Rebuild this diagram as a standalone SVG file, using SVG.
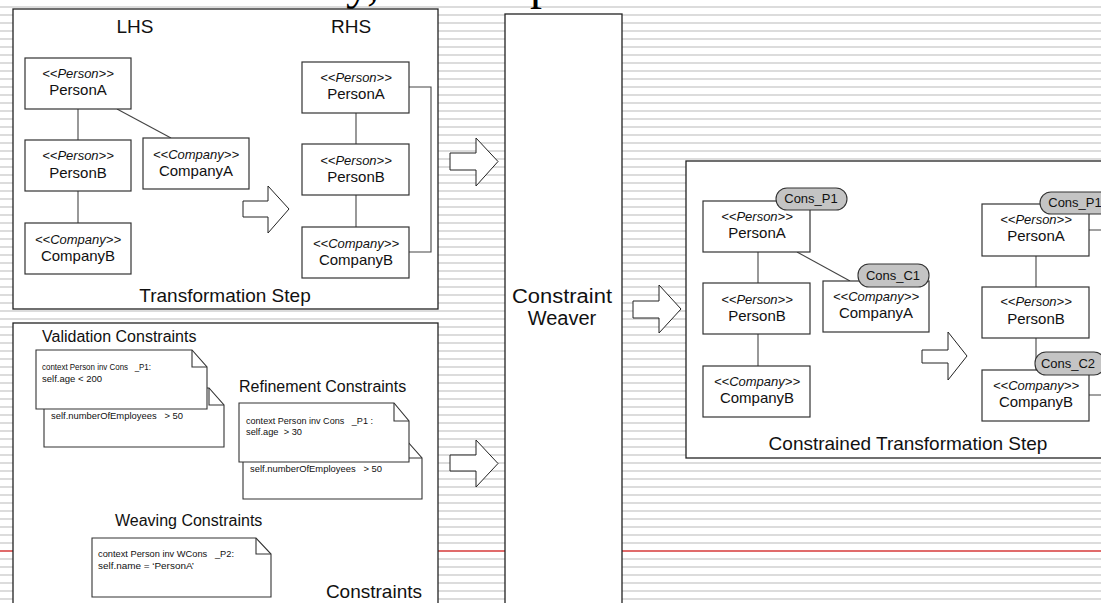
<svg xmlns="http://www.w3.org/2000/svg" width="1101" height="603" viewBox="0 0 1101 603">
<defs>
<pattern id="stripes" width="8" height="8" patternUnits="userSpaceOnUse"><rect x="0" y="6" width="8" height="2" fill="#dcdcdc"/></pattern>
</defs>
<style>
text{font-family:"Liberation Sans",Arial,sans-serif;fill:#111}
.frame{fill:#fff;stroke:#222;stroke-width:1.3}
.node{fill:#fff;stroke:#333;stroke-width:1.2}
.note{fill:#fff;stroke:#333;stroke-width:1.1}
.fold{fill:none;stroke:#333;stroke-width:1.1}
.pill{fill:#c4c4c4;stroke:#333;stroke-width:1.1}
.edge{fill:none;stroke:#444;stroke-width:1.1}
.barrow{fill:#fff;stroke:#222;stroke-width:1}
.st{font-size:13px;font-style:italic;text-anchor:middle}
.nm{font-size:15px;text-anchor:middle}
.big{font-size:19px}
.sec{font-size:16px}
.nt{font-size:9px;white-space:pre}
.pt{font-size:13px;text-anchor:middle}
.wv{font-size:20px;text-anchor:middle}
.title{font-family:"Liberation Serif","Times New Roman",serif;font-size:48px;fill:#000}
</style>
<rect width="1101" height="603" fill="#fff"/>
<rect width="1101" height="603" fill="url(#stripes)"/>
<line x1="0" y1="551" x2="1101" y2="551" stroke="#e06b6b" stroke-width="2"/>
<g id="title-fragments">
<text class="title" x="346" y="-1">y,</text>
<text class="title" x="530" y="-1">p</text>
</g>

<g id="transformation-step">
<rect class="frame" x="13" y="9" width="425" height="300"/>
<text class="big" x="135" y="33" text-anchor="middle">LHS</text>
<text class="big" x="351" y="33" text-anchor="middle">RHS</text>
<text class="big" x="225" y="302" text-anchor="middle">Transformation Step</text>
</g>

<g id="constraints">
<rect class="frame" x="13" y="323" width="425" height="290"/>
<text class="sec" x="42" y="342">Validation Constraints</text>
<text class="sec" x="239" y="392">Refinement Constraints</text>
<text class="sec" x="115" y="526">Weaving Constraints</text>
<text class="big" x="422" y="598" text-anchor="end">Constraints</text>
</g>

<g id="weaver">
<rect class="frame" x="505" y="14" width="117" height="600"/>
<text class="wv" x="562" y="303" textLength="100" lengthAdjust="spacingAndGlyphs">Constraint</text>
<text class="wv" x="562" y="325">Weaver</text>
</g>

<g id="constrained-step">
<rect class="frame" x="686" y="161" width="430" height="297"/>
<text class="big" x="908" y="450" text-anchor="middle">Constrained Transformation Step</text>
</g>

<g id="connectors">
<line class="edge" x1="78" y1="109" x2="78" y2="140"/>
<line class="edge" x1="78" y1="191" x2="78" y2="223"/>
<line class="edge" x1="117" y1="109" x2="171" y2="138"/>
<line class="edge" x1="356" y1="113" x2="356" y2="144"/>
<line class="edge" x1="356" y1="195" x2="356" y2="227"/>
<polyline class="edge" points="409,87 431,87 431,252 409,252"/>
<line class="edge" x1="758" y1="252" x2="758" y2="283"/>
<line class="edge" x1="758" y1="334" x2="758" y2="366"/>
<line class="edge" x1="797" y1="252" x2="850" y2="281"/>
<line class="edge" x1="1036" y1="256" x2="1036" y2="287"/>
<line class="edge" x1="1036" y1="338" x2="1036" y2="370"/>
<polyline class="edge" points="1089,230 1110,230 1110,395 1089,395"/>
<polygon class="barrow" points="243,201 268,201 268,186 289,209 268,233 268,217 243,217"/>
<polygon class="barrow" points="450,153 476,153 476,138 498,161.5 476,186 476,170 450,170"/>
<polygon class="barrow" points="450,455 476,455 476,440 498,463.5 476,487 476,471 450,471"/>
<polygon class="barrow" points="633,301 659,301 659,285 681,309 659,333 659,318 633,318"/>
<polygon class="barrow" points="922,350 948,350 948,332 967,356 948,380 948,363 922,363"/>
</g>

<g id="lhs-personA"><rect class="node" x="25" y="58" width="106" height="51"/><text class="st" x="78" y="78">&lt;&lt;Person&gt;&gt;</text><text class="nm" x="78" y="95">PersonA</text></g>
<g id="lhs-personB"><rect class="node" x="25" y="140" width="106" height="51"/><text class="st" x="78" y="160">&lt;&lt;Person&gt;&gt;</text><text class="nm" x="78" y="178">PersonB</text></g>
<g id="lhs-companyB"><rect class="node" x="25" y="223" width="106" height="51"/><text class="st" x="78" y="244">&lt;&lt;Company&gt;&gt;</text><text class="nm" x="78" y="261">CompanyB</text></g>
<g id="lhs-companyA"><rect class="node" x="143" y="138" width="106" height="51"/><text class="st" x="196" y="159">&lt;&lt;Company&gt;&gt;</text><text class="nm" x="196" y="176">CompanyA</text></g>

<g id="rhs-personA"><rect class="node" x="302" y="62" width="107" height="51"/><text class="st" x="356" y="82">&lt;&lt;Person&gt;&gt;</text><text class="nm" x="356" y="99">PersonA</text></g>
<g id="rhs-personB"><rect class="node" x="302" y="144" width="107" height="51"/><text class="st" x="356" y="165">&lt;&lt;Person&gt;&gt;</text><text class="nm" x="356" y="182">PersonB</text></g>
<g id="rhs-companyB"><rect class="node" x="302" y="227" width="107" height="51"/><text class="st" x="356" y="248">&lt;&lt;Company&gt;&gt;</text><text class="nm" x="356" y="265">CompanyB</text></g>

<g id="note-validation-back"><path class="note" d="M44 388 H209 L224 405 V447 H44 Z"/><path class="fold" d="M209 388 V405 H224"/><text class="nt" x="51" y="419" textLength="132" lengthAdjust="spacingAndGlyphs">self.numberOfEmployees   &gt; 50</text></g>
<g id="note-validation"><path class="note" d="M36 350 H192 L207 367 V409 H36 Z"/><path class="fold" d="M192 350 V367 H207"/><text class="nt" x="42" y="370" textLength="109" lengthAdjust="spacingAndGlyphs">context Person inv Cons   _P1:</text><text class="nt" x="42" y="382" textLength="60" lengthAdjust="spacingAndGlyphs">self.age &lt; 200</text></g>
<g id="note-refinement-back"><path class="note" d="M243 441 H407 L422 458 V499 H243 Z"/><path class="fold" d="M407 441 V458 H422"/><text class="nt" x="250" y="472" textLength="132" lengthAdjust="spacingAndGlyphs">self.numberOfEmployees   &gt; 50</text></g>
<g id="note-refinement"><path class="note" d="M239 403 H394 L409 421 V462 H239 Z"/><path class="fold" d="M394 403 V421 H409"/><text class="nt" x="246" y="424" textLength="127" lengthAdjust="spacingAndGlyphs">context Person inv Cons   _P1 :</text><text class="nt" x="246" y="435" textLength="56" lengthAdjust="spacingAndGlyphs">self.age  &gt; 30</text></g>
<g id="note-weaving"><path class="note" d="M92 538 H256 L271 554 V597 H92 Z"/><path class="fold" d="M256 538 V554 H271"/><text class="nt" x="98" y="557" textLength="136" lengthAdjust="spacingAndGlyphs">context Person inv WCons   _P2:</text><text class="nt" x="98" y="569" textLength="96" lengthAdjust="spacingAndGlyphs">self.name = ‘PersonA’</text></g>

<g id="c-personA"><rect class="node" x="703" y="201" width="107" height="51"/><text class="st" x="757" y="221">&lt;&lt;Person&gt;&gt;</text><text class="nm" x="757" y="238">PersonA</text></g>
<g id="c-personB"><rect class="node" x="703" y="283" width="107" height="51"/><text class="st" x="757" y="304">&lt;&lt;Person&gt;&gt;</text><text class="nm" x="757" y="321">PersonB</text></g>
<g id="c-companyB"><rect class="node" x="703" y="366" width="107" height="51"/><text class="st" x="757" y="386">&lt;&lt;Company&gt;&gt;</text><text class="nm" x="757" y="403">CompanyB</text></g>
<g id="c-companyA"><rect class="node" x="823" y="281" width="106" height="51"/><text class="st" x="876" y="301">&lt;&lt;Company&gt;&gt;</text><text class="nm" x="876" y="318">CompanyA</text></g>
<g id="c-cons-p1"><rect class="pill" x="776" y="188" width="71" height="22" rx="11"/><text class="pt" x="811" y="203">Cons_P1</text></g>
<g id="c-cons-c1"><rect class="pill" x="858" y="264" width="71" height="23" rx="11"/><text class="pt" x="893" y="280">Cons_C1</text></g>

<g id="c2-personA"><rect class="node" x="982" y="204" width="107" height="52"/><text class="st" x="1036" y="224">&lt;&lt;Person&gt;&gt;</text><text class="nm" x="1036" y="241">PersonA</text></g>
<g id="c2-personB"><rect class="node" x="982" y="287" width="107" height="51"/><text class="st" x="1036" y="306">&lt;&lt;Person&gt;&gt;</text><text class="nm" x="1036" y="324">PersonB</text></g>
<g id="c2-companyB"><rect class="node" x="982" y="370" width="107" height="51"/><text class="st" x="1036" y="390">&lt;&lt;Company&gt;&gt;</text><text class="nm" x="1036" y="407">CompanyB</text></g>
<g id="c2-cons-p1"><rect class="pill" x="1040" y="192" width="76" height="22" rx="11"/><text class="pt" x="1075" y="207">Cons_P1</text></g>
<g id="c2-cons-c2"><rect class="pill" x="1035" y="352" width="70" height="23" rx="11"/><text class="pt" x="1068" y="368">Cons_C2</text></g>
</svg>
